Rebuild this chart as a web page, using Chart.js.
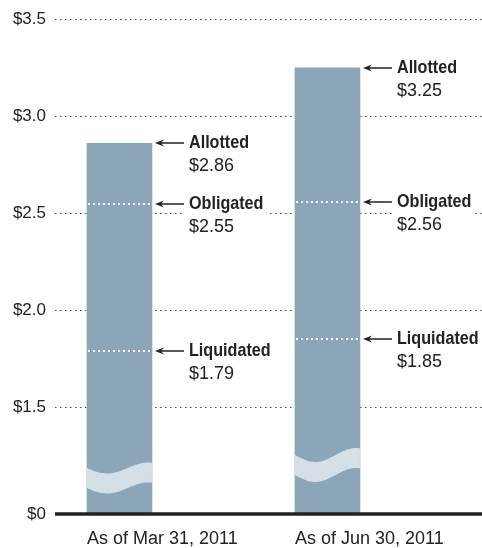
<!DOCTYPE html>
<html>
<head>
<meta charset="utf-8">
<script src="https://cdn.jsdelivr.net/npm/chart.js@4"></script>
<style>
  html, body { margin: 0; padding: 0; background: #fff; }
  #wrap { width: 482px; height: 548px; }
</style>
</head>
<body>
<div id="wrap"><canvas id="chart"></canvas></div>
<script>
// ---- datos ----
const xLabels = ['As of Mar 31, 2011', 'As of Jun 30, 2011'];
const allotted = [2.86, 3.25];
const obligated = [2.55, 2.56];
const liquidated = [1.79, 1.85];
const seriesNames = ['Allotted', 'Obligated', 'Liquidated'];

// eje y con corte: el piso se rotula como $0
const yFloor = 0.95;
const yTickValues = [0.95, 1.5, 2.0, 2.5, 3.0, 3.5];
const yTickLabels = ['$0', '$1.5', '$2.0', '$2.5', '$3.0', '$3.5'];

// ---- estilos ----
const BAR = '#8ba5b9';
const BAND = '#d5dfe7';
const INK = '#222';
const NAME_FONT = 'bold 19px "Liberation Sans", Arial, sans-serif';
const NAME_SQUEEZE = 0.85; // fuente condensada simulada
const VALUE_FONT = '18px "Liberation Sans", Arial, sans-serif';
const breakStyle = [{ off: 46, amp: 5.5 }, { off: 59, amp: 7 }]; // px desde la base

const annotate = {
  id: 'annotate',
  afterDatasetsDraw(chart) {
    const ctx = chart.ctx;
    const y = chart.scales.y;
    const area = chart.chartArea;
    const meta = chart.getDatasetMeta(0);

    meta.data.forEach((bar, i) => {
      const left = bar.x - bar.width / 2;
      const right = bar.x + bar.width / 2;

      // lineas punteadas blancas dentro de la barra
      [obligated[i], liquidated[i]].forEach(v => {
        const py = Math.round(y.getPixelForValue(v));
        ctx.save();
        ctx.strokeStyle = '#fff';
        ctx.lineWidth = 2;
        ctx.setLineDash([2, 3]);
        ctx.beginPath();
        ctx.moveTo(left + 1, py);
        ctx.lineTo(right, py);
        ctx.stroke();
        ctx.restore();
      });

      // corte ondulado
      const bs = breakStyle[i];
      const yc = area.bottom - bs.off;
      const thick = 20;
      ctx.save();
      ctx.fillStyle = BAND;
      ctx.beginPath();
      const steps = 30;
      for (let s = 0; s <= steps; s++) {
        const t = s / steps;
        const px = left + t * (right - left);
        const py = yc + bs.amp * Math.sin(1.6 * Math.PI * t);
        if (s === 0) ctx.moveTo(px, py); else ctx.lineTo(px, py);
      }
      for (let s = steps; s >= 0; s--) {
        const t = s / steps;
        const px = left + t * (right - left);
        const py = yc + thick + bs.amp * Math.sin(1.6 * Math.PI * t);
        ctx.lineTo(px, py);
      }
      ctx.closePath();
      ctx.fill();
      ctx.restore();

      // etiquetas con flecha
      [allotted[i], obligated[i], liquidated[i]].forEach((v, k) => {
        const py = Math.round(y.getPixelForValue(v));
        const tx = right + 37;
        const name = seriesNames[k];
        const val = '$' + v.toFixed(2);

        ctx.save();
        ctx.font = NAME_FONT;
        const w1 = ctx.measureText(name).width * NAME_SQUEEZE;
        ctx.font = VALUE_FONT;
        const w2 = ctx.measureText(val).width;
        ctx.fillStyle = '#fff';
        ctx.fillRect(tx - 5, py - 13, Math.max(w1, w2) + 8, 47);

        // flecha
        ctx.strokeStyle = INK;
        ctx.fillStyle = INK;
        ctx.lineWidth = 1.5;
        ctx.beginPath();
        ctx.moveTo(right + 8, py);
        ctx.lineTo(right + 32, py);
        ctx.stroke();
        ctx.beginPath();
        ctx.moveTo(right + 3, py);
        ctx.lineTo(right + 12, py - 3.5);
        ctx.lineTo(right + 9, py);
        ctx.lineTo(right + 12, py + 3.5);
        ctx.closePath();
        ctx.fill();

        ctx.textAlign = 'left';
        ctx.textBaseline = 'alphabetic';
        ctx.font = VALUE_FONT;
        ctx.fillText(val, tx, py + 28);
        ctx.translate(tx, py + 5);
        ctx.scale(NAME_SQUEEZE, 1);
        ctx.font = NAME_FONT;
        ctx.fillText(name, 0, 0);
        ctx.restore();
      });
    });

    // linea base negra
    const by = y.getPixelForValue(yFloor);
    ctx.save();
    ctx.strokeStyle = INK;
    ctx.lineWidth = 3.5;
    ctx.beginPath();
    ctx.moveTo(area.left, by);
    ctx.lineTo(area.right, by);
    ctx.stroke();
    ctx.restore();
  }
};

new Chart(document.getElementById('chart'), {
  type: 'bar',
  data: {
    datasets: [{
      data: allotted.map((v, i) => ({ x: i, y: v })),
      backgroundColor: BAR,
      base: yFloor,
      barThickness: 65,
      borderWidth: 0
    }]
  },
  options: {
    responsive: true,
    maintainAspectRatio: false,
    animation: false,
    layout: { padding: { top: 18, left: 0, right: 0, bottom: 0 } },
    plugins: { legend: { display: false }, tooltip: { enabled: false } },
    scales: {
      x: {
        type: 'linear',
        offset: false,
        min: -0.31,
        max: 1.743,
        grid: { display: false, offset: false },
        border: { display: false },
        afterBuildTicks: s => { s.ticks = [{ value: 0 }, { value: 1 }]; },
        afterFit: s => { s.height = 34; s.paddingLeft = 0; s.paddingRight = 0; },
        ticks: {
          autoSkip: false,
          align: 'start',
          labelOffset: -32.5,
          padding: 6,
          color: INK,
          font: { family: '"Liberation Sans", Arial, sans-serif', size: 18 },
          callback: (v, i) => xLabels[i]
        }
      },
      y: {
        min: yFloor,
        max: 3.5,
        afterBuildTicks: s => { s.ticks = yTickValues.map(v => ({ value: v })); },
        afterFit: s => { s.width = 55; },
        grid: {
          drawTicks: false,
          color: c => (c.index === 0 ? 'rgba(0,0,0,0)' : '#4a4a4a'),
          lineWidth: 1
        },
        border: { display: false, dash: [1.5, 3.5] },
        ticks: {
          padding: 9,
          color: INK,
          font: { family: '"Liberation Sans", Arial, sans-serif', size: 17 },
          callback: (v, i) => yTickLabels[i]
        }
      }
    }
  },
  plugins: [annotate]
});
</script>
</body>
</html>
